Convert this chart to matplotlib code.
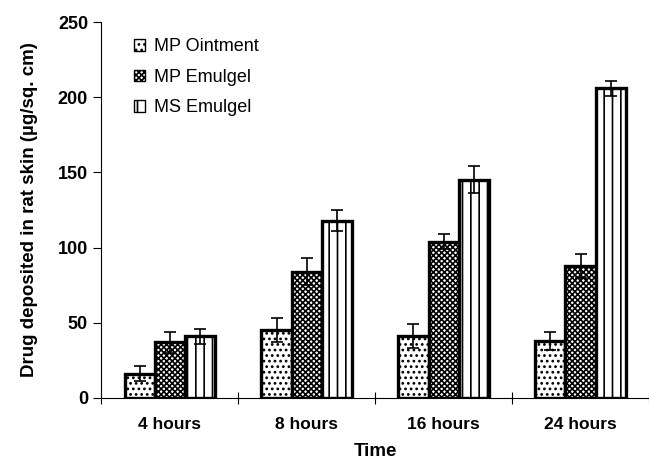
import numpy as np
import matplotlib
matplotlib.use("Agg")
import matplotlib.pyplot as plt

plt.rcParams['font.family'] = ['Liberation Sans', 'DejaVu Sans']
plt.rcParams['font.weight'] = 'bold'
plt.rcParams['axes.labelweight'] = 'bold'
plt.rcParams['hatch.linewidth'] = 1.2

times = ['4 hours', '8 hours', '16 hours', '24 hours']
mp_ointment = [16, 45, 41, 38]
mp_ointment_err = [5, 8, 8, 6]
mp_emulgel = [37, 84, 104, 88]
mp_emulgel_err = [7, 9, 5, 8]
ms_emulgel = [41, 118, 145, 206]
ms_emulgel_err = [5, 7, 9, 5]

series = [
    ('MP Ointment', mp_ointment, mp_ointment_err, '...'),
    ('MP Emulgel', mp_emulgel, mp_emulgel_err, 'xxxxxx'),
    ('MS Emulgel', ms_emulgel, ms_emulgel_err, '||'),
]

fig, ax = plt.subplots(figsize=(6.49, 4.61), dpi=100)
fig.subplots_adjust(left=0.156, right=1.0, bottom=0.137, top=0.952)

x = np.arange(len(times)) + 0.5
w = 0.22
for i, (name, vals, errs, hatch) in enumerate(series):
    ax.bar(x + (i - 1) * w, vals, w, color='white', edgecolor='black',
           linewidth=2.4, hatch=hatch, label=name, zorder=2)
    ax.errorbar(x + (i - 1) * w, vals, yerr=errs, fmt='none', ecolor='black',
                elinewidth=1.2, capsize=4, capthick=1.2, zorder=3)

ax.set_xlim(0, 4)
ax.set_ylim(0, 250)
ax.set_yticks([0, 50, 100, 150, 200, 250])
ax.set_xticks([0, 1, 2, 3, 4])
ax.set_xticklabels([])
ax.set_xticks(x, minor=True)
ax.set_xticklabels(times, minor=True)
ax.tick_params(axis='x', which='minor', length=0, pad=14, labelsize=12.5)
ax.tick_params(axis='x', which='major', direction='inout', length=8)
ax.tick_params(axis='y', direction='out', length=6, labelsize=13)

ax.spines['right'].set_visible(False)
ax.spines['top'].set_visible(False)

ax.set_xlabel('Time', fontsize=13.5, labelpad=8)
ax.set_ylabel('Drug deposited in rat skin (\u00b5g/sq. cm)', fontsize=13.5,
              labelpad=14)

leg = ax.legend(loc='upper left', frameon=False, fontsize=13,
                handlelength=0.6, handleheight=0.6, handletextpad=0.5,
                bbox_to_anchor=(0.03, 1.0), labelspacing=0.75)
for t in leg.get_texts():
    t.set_fontweight('normal')
for p in leg.get_patches():
    p.set_linewidth(1.0)

plt.savefig('out.png', dpi=100)
